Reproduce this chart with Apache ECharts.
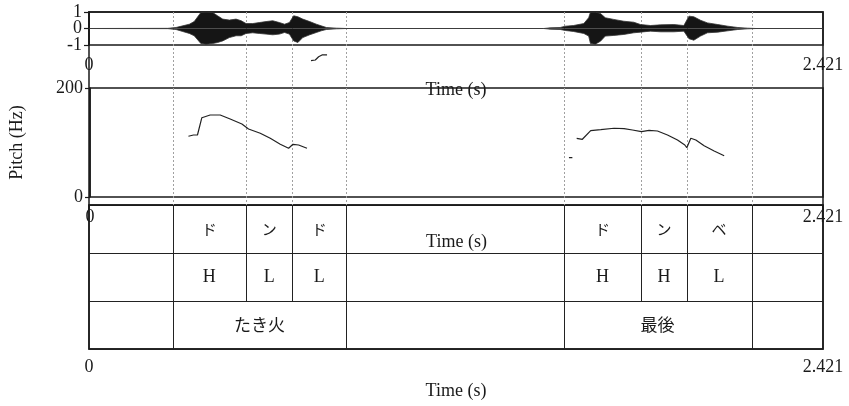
<!DOCTYPE html>
<html>
<head>
<meta charset="utf-8">
<script src="https://cdn.jsdelivr.net/npm/echarts@6/dist/echarts.min.js"></script>
<style>html,body{margin:0;padding:0;background:#fff}#c{width:849px;height:406px}</style>
</head>
<body>
<div id="c"></div>
<script>
// ---- data ----
const T_MAX = 2.421;
const boundaryTimes = [0.2755, 0.5183, 0.6704, 0.849, 1.5654, 1.8213, 1.9712, 2.1852];

const syllableStarts = [0.2755, 0.5183, 0.6704, 1.5654, 1.8213, 1.9712];
const syllableEnds   = [0.5183, 0.6704, 0.849, 1.8213, 1.9712, 2.1852];
const syllableLabels = ['ド', 'ン', 'ド', 'ド', 'ン', 'ベ'];
const toneLabels     = ['H', 'L', 'L', 'H', 'H', 'L'];
const wordStarts = [0.2755, 1.5654];
const wordEnds   = [0.849, 2.1852];
const wordLabels = ['たき火', '最後'];

const waveTicksOuter = [-1, 1];
const waveTicksMid = [0];

const waveTimes = [0, 0.26, 0.287, 0.309, 0.331, 0.347, 0.369, 0.386, 0.408, 0.424,
  0.441, 0.463, 0.485, 0.502, 0.518, 0.540, 0.562, 0.584, 0.606, 0.628,
  0.645, 0.661, 0.675, 0.689, 0.705, 0.728, 0.750, 0.766, 0.783, 0.816,
  0.85, 1.50, 1.521, 1.554, 1.571, 1.598, 1.632, 1.648, 1.654, 1.670,
  1.687, 1.703, 1.731, 1.764, 1.797, 1.819, 1.852, 1.885, 1.929, 1.962,
  1.979, 1.995, 2.017, 2.040, 2.074, 2.107, 2.140, 2.172, 2.20, 2.421];
const waveUpper = [0, 0.01, 0.06, 0.16, 0.26, 0.42, 0.97, 0.99, 0.97, 0.77,
  0.57, 0.51, 0.57, 0.47, 0.30, 0.30, 0.36, 0.42, 0.47, 0.36,
  0.26, 0.36, 0.77, 0.71, 0.57, 0.42, 0.26, 0.16, 0.06, 0.02,
  0, 0, 0.04, 0.06, 0.14, 0.18, 0.30, 0.65, 0.99, 0.99,
  0.91, 0.65, 0.55, 0.44, 0.38, 0.24, 0.18, 0.22, 0.24, 0.18,
  0.75, 0.71, 0.50, 0.34, 0.24, 0.14, 0.06, 0.02, 0, 0];
const waveLower = [0, -0.01, -0.06, -0.18, -0.30, -0.44, -0.91, -0.95, -0.91, -0.85,
  -0.75, -0.55, -0.44, -0.44, -0.30, -0.26, -0.30, -0.34, -0.38, -0.34,
  -0.24, -0.34, -0.75, -0.85, -0.55, -0.38, -0.24, -0.14, -0.06, -0.02,
  0, 0, -0.04, -0.06, -0.12, -0.18, -0.30, -0.46, -0.91, -0.95,
  -0.77, -0.46, -0.42, -0.36, -0.26, -0.22, -0.16, -0.20, -0.20, -0.16,
  -0.62, -0.71, -0.46, -0.26, -0.22, -0.14, -0.06, -0.02, 0, 0];

const pitch1Times = [0.3251, 0.3417, 0.3549, 0.3694, 0.3747, 0.3969, 0.4300, 0.4630, 0.5017,
  0.5236, 0.5623, 0.5954, 0.6284, 0.6559, 0.6704, 0.6889, 0.7167];
const pitch1Hz = [111.4, 113.8, 113.8, 145.5, 147.3, 150.5, 150.5, 143.1, 133.9,
  124.8, 116.9, 107.7, 96.7, 89.4, 96.7, 95.4, 89.4];
const pitchJumpTimes = [0.730, 0.7442, 0.7551, 0.7663, 0.7829];
const pitchJumpHz = [250.1, 251.4, 257.4, 260.6, 260.6];
const pitchBlipTimes = [1.5819, 1.5932];
const pitchBlipHz = [72.1, 72.1];
const pitch2Times = [1.6074, 1.6262, 1.6537, 1.6868, 1.7308, 1.7639, 1.7916, 1.8214, 1.8465,
  1.8743, 1.9074, 1.9404, 1.9646, 1.9712, 1.9844, 2.0010, 2.0284, 2.0615, 2.0946];
const pitch2Hz = [107.7, 105.9, 121.7, 123.5, 126.1, 125.3, 122.9, 119.8, 122.4,
  121.1, 113.8, 104.6, 95.4, 90.5, 107.7, 104.6, 94.1, 84.4, 75.8];

// ---- helpers ----
const zip = (a, b) => a.map((v, i) => [v, b[i]]);
const SERIF = '"Liberation Serif","Times New Roman",serif';
const CJK = '"Noto Sans CJK JP","Noto Sans CJK SC",sans-serif';
const INK = '#1a1a1a';
const crisp = v => Math.round(v) + 0.5;

const tgItems = [];
const tgText = [];
syllableStarts.forEach((s, i) => { tgItems.push([0, s, syllableEnds[i]]); tgText.push({t: syllableLabels[i], f: '15px ' + CJK}); });
syllableStarts.forEach((s, i) => { tgItems.push([1, s, syllableEnds[i]]); tgText.push({t: toneLabels[i], f: '18px ' + SERIF}); });
wordStarts.forEach((s, i) => { tgItems.push([2, s, wordEnds[i]]); tgText.push({t: wordLabels[i], f: '17px ' + CJK}); });

const L = 89, R = 26;
const borderGrid = (top, height) => ({left: L, right: R, top, height, show: true, borderColor: INK, borderWidth: 1.5, backgroundColor: 'transparent'});
const timeLabel = (margin) => ({show: true, showMinLabel: true, showMaxLabel: true, hideOverlap: false, margin,
  fontFamily: SERIF, fontSize: 18, color: INK, formatter: v => (v === 0 ? '0' : '2.421')});
const timeAxis = (gi, opts) => Object.assign({
  type: 'value', gridIndex: gi, min: 0, max: T_MAX, interval: T_MAX,
  axisLine: {show: false}, axisTick: {show: false}, splitLine: {show: false},
  axisLabel: timeLabel(11),
  name: 'Time (s)', nameLocation: 'middle', nameGap: 36,
  nameTextStyle: {fontFamily: SERIF, fontSize: 18, color: INK}
}, opts);
const valLabel = (extra) => Object.assign({show: true, showMinLabel: true, showMaxLabel: true, hideOverlap: false, margin: 7,
  fontFamily: SERIF, fontSize: 18, color: INK}, extra || {});
const tickStyle = (extra) => Object.assign({show: true, length: 5, lineStyle: {color: INK, width: 1.2}}, extra || {});

const chart = echarts.init(document.getElementById('c'), null, {renderer: 'canvas'});
chart.setOption({
  animation: false,
  backgroundColor: '#fff',
  grid: [
    borderGrid(12, 337),               // 0 frame
    borderGrid(12, 33),                // 1 waveform
    borderGrid(88, 109),               // 2 pitch
    borderGrid(205, 144),              // 3 textgrid
    {left: L, right: R, top: 12, height: 193, show: false} // 4 dashed boundaries
  ],
  xAxis: [
    {type: 'value', gridIndex: 0, min: 0, max: T_MAX, show: false},
    timeAxis(1),
    timeAxis(2),
    timeAxis(3, {axisLine: {show: true, lineStyle: {color: INK, width: 1.5}},
      axisTick: {show: true, length: 5, lineStyle: {color: INK, width: 1.5}},
      axisLabel: timeLabel(9),
      nameGap: 33}),
    {type: 'value', gridIndex: 4, min: 0, max: T_MAX, show: false}
  ],
  yAxis: [
    {type: 'value', gridIndex: 0, min: 0, max: 1, show: false},
    {type: 'value', gridIndex: 1, min: -1, max: 1, interval: 1,
      axisLine: {show: true, lineStyle: {color: INK, width: 1.5}},
      axisTick: tickStyle({customValues: waveTicksOuter}),
      axisLabel: valLabel({customValues: waveTicksOuter}),
      splitLine: {show: false}},
    {type: 'value', gridIndex: 2, min: 0, max: 200, interval: 200,
      axisLine: {show: true, lineStyle: {color: INK, width: 1.5}},
      axisTick: tickStyle(),
      axisLabel: valLabel(),
      splitLine: {show: false},
      name: 'Pitch (Hz)', nameLocation: 'middle', nameGap: 64,
      nameTextStyle: {fontFamily: SERIF, fontSize: 18, color: INK}},
    {type: 'value', gridIndex: 3, min: 0, max: 3, interval: 1, inverse: true,
      axisLine: {show: false}, axisTick: {show: false}, axisLabel: {show: false},
      splitLine: {show: true, lineStyle: {color: '#222', width: 1}}},
    {type: 'value', gridIndex: 4, min: 0, max: 1, show: false},
    {type: 'value', gridIndex: 1, min: -1, max: 1, interval: 1, position: 'left',
      axisLine: {show: false},
      axisTick: tickStyle({customValues: waveTicksMid}),
      axisLabel: valLabel({customValues: waveTicksMid}),
      splitLine: {show: false}}
  ],
  series: [
    {type: 'custom', xAxisIndex: 4, yAxisIndex: 4, z: 1,
      data: boundaryTimes.map(b => [b]),
      encode: {x: 0},
      renderItem: (params, api) => {
        const top = api.coord([api.value(0), 1]);
        const bot = api.coord([api.value(0), 0]);
        const x = crisp(top[0]);
        return {type: 'line', shape: {x1: x, y1: top[1], x2: x, y2: bot[1]},
          style: {stroke: '#a0a0a0', lineWidth: 1, lineDash: [2, 2]}};
      }},
    {type: 'line', xAxisIndex: 1, yAxisIndex: 1, data: zip(waveTimes, waveUpper), showSymbol: false, z: 3,
      lineStyle: {color: '#333', width: 0.8}, areaStyle: {color: '#151515', opacity: 1, origin: 0}},
    {type: 'line', xAxisIndex: 1, yAxisIndex: 1, data: zip(waveTimes, waveLower), showSymbol: false, z: 3,
      lineStyle: {color: '#333', width: 0.8}, areaStyle: {color: '#151515', opacity: 1, origin: 0}},
    {type: 'line', xAxisIndex: 2, yAxisIndex: 2, data: zip(pitch1Times, pitch1Hz), showSymbol: false, z: 3,
      lineStyle: {color: '#222', width: 1.2}},
    {type: 'line', xAxisIndex: 2, yAxisIndex: 2, data: zip(pitchJumpTimes, pitchJumpHz), showSymbol: false, z: 3, clip: false,
      lineStyle: {color: '#222', width: 1.2}},
    {type: 'line', xAxisIndex: 2, yAxisIndex: 2, data: zip(pitchBlipTimes, pitchBlipHz), showSymbol: false, z: 3,
      lineStyle: {color: '#222', width: 1.2}},
    {type: 'line', xAxisIndex: 2, yAxisIndex: 2, data: zip(pitch2Times, pitch2Hz), showSymbol: false, z: 3,
      lineStyle: {color: '#222', width: 1.2}},
    {type: 'custom', xAxisIndex: 3, yAxisIndex: 3, z: 4,
      data: tgItems,
      encode: {x: [1, 2], y: 0},
      renderItem: (params, api) => {
        const tier = api.value(0), s = api.value(1), e = api.value(2);
        const p0 = api.coord([s, tier]);
        const p1 = api.coord([e, tier + 1]);
        const x0 = crisp(p0[0]), x1 = crisp(p1[0]);
        const txt = tgText[params.dataIndex];
        const st = {stroke: '#222', lineWidth: 1};
        return {type: 'group', children: [
          {type: 'line', shape: {x1: x0, y1: p0[1], x2: x0, y2: p1[1]}, style: st},
          {type: 'line', shape: {x1: x1, y1: p0[1], x2: x1, y2: p1[1]}, style: st},
          {type: 'text', style: {text: txt.t, x: (p0[0] + p1[0]) / 2, y: (p0[1] + p1[1]) / 2,
            align: 'center', verticalAlign: 'middle', font: txt.f, fill: INK}}
        ]};
      }}
  ]
});
</script>
</body>
</html>
